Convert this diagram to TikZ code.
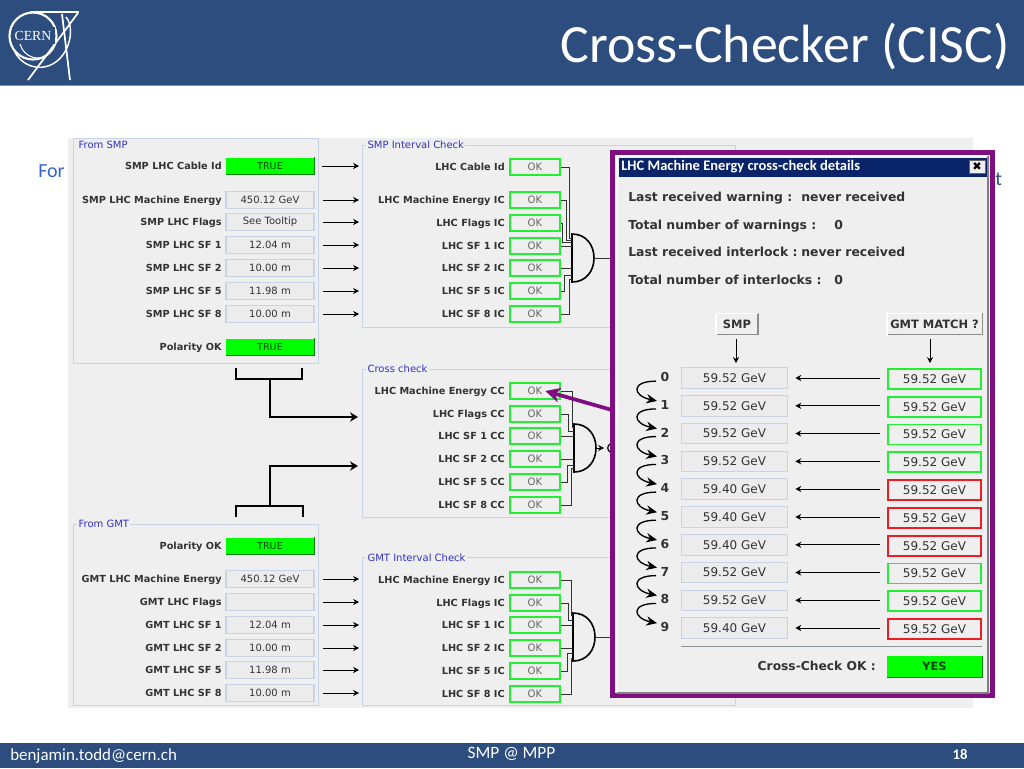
\documentclass[tikz,border=0pt]{standalone}
\usepackage{fontspec}
\setmainfont{DejaVu Sans}
\newfontfamily\calibri{Carlito}
\usetikzlibrary{arrows.meta}
\definecolor{hdr}{HTML}{2C4D7E}
\definecolor{pan}{HTML}{EFEFEF}
\definecolor{edgeb}{HTML}{C8D4E4}
\definecolor{valf}{HTML}{ECECEC}
\definecolor{okg}{HTML}{22EE33}
\definecolor{txt}{HTML}{333333}
\definecolor{tit}{HTML}{3030C8}
\definecolor{purp}{HTML}{7F0F80}
\definecolor{navy}{HTML}{0A246A}
\definecolor{bad}{HTML}{EE1C25}
\definecolor{grn}{HTML}{00FF00}
\definecolor{wire}{HTML}{333333}
\definecolor{forblue}{HTML}{3366CC}
\tikzset{
  lbl/.style={anchor=mid east,inner sep=0pt,text=txt,font=\fontsize{7.3}{8}\selectfont\bfseries},
  lbll/.style={anchor=mid west,inner sep=0pt,text=txt,font=\fontsize{9.3}{10}\selectfont\bfseries},
  valbox/.style={draw=edgeb,fill=valf,line width=.8pt,minimum width=66pt,minimum height=12.6pt,inner sep=0pt,text=txt,font=\fontsize{7.5}{8}\selectfont},
  truebox/.style={fill=grn,minimum width=66pt,minimum height=12.6pt,inner sep=0pt,text=black!65!green!80!black,font=\fontsize{7.2}{8}\selectfont},
  okbox/.style={draw=okg,fill=pan,line width=1.5pt,minimum width=38pt,minimum height=12pt,inner sep=0pt,text=black!60,font=\fontsize{7.6}{8}\selectfont},
  grp/.style={draw=edgeb,line width=.7pt},
  grptitle/.style={anchor=mid west,fill=pan,inner sep=1pt,text=tit,font=\fontsize{7.5}{8}\selectfont},
  sig/.style={draw=black,line width=.7pt,-{Stealth[length=4.4pt,width=4.6pt]}},
  fat/.style={draw=black,line width=1.2pt},
  fatarrow/.style={fat,-{Stealth[length=6pt,width=7pt]}},
  wr/.style={draw=wire,line width=.75pt},
  gate/.style={draw=black,line width=1.2pt,fill=pan},
  lleft/.style={draw=edgeb,fill=valf,line width=.8pt,minimum width=79.5pt,minimum height=15.4pt,inner sep=0pt,text=txt,font=\fontsize{9}{10}\selectfont},
  lright/.style={fill=pan,line width=1.4pt,minimum width=70pt,minimum height=15pt,inner sep=0pt,text=txt,font=\fontsize{9}{10}\selectfont},
  btn/.style={fill=pan,minimum height=15.5pt,inner sep=0pt,text=txt,font=\fontsize{8.6}{10}\selectfont\bfseries},
  curl/.style={draw=black,line width=1pt,-{Stealth[length=8pt,width=7pt]}},
}
\newcommand{\bevel}[2]{\draw[#2,line width=.9pt] (#1.south west) -- (#1.south east) -- (#1.north east);}
\newcommand{\lightbevel}[1]{\draw[white,line width=.9pt] (#1.south west) -- (#1.north west) -- (#1.north east);}
% gate: name, x, ycentre, pin offsets 1..6
\newcommand{\andgate}[9]{%
  \begin{scope}[shift={(#2,#3)}]
    \draw[gate] (0,-24) .. controls (14,-24) and (22,-13) .. (22,0) .. controls (22,13) and (14,24) .. (0,24) -- cycle;
    \coordinate (#1out) at (22,0);
    \coordinate (#1a) at (0,#4);
    \coordinate (#1b) at (0,#5);
    \coordinate (#1c) at (0,#6);
    \coordinate (#1d) at (0,#7);
    \coordinate (#1e) at (0,#8);
    \coordinate (#1f) at (0,#9);
  \end{scope}}
\begin{document}
\begin{tikzpicture}[x=0.75pt,y=-0.75pt]
\useasboundingbox (0,0) rectangle (1024,768);
\fill[white] (0,0) rectangle (1024,768);
% header and footer
\fill[hdr] (0,0) rectangle (1024,85);
\fill[hdr!60!white] (0,85) rectangle (1024,86);
\fill[hdr] (0,743) rectangle (1024,768);
\node[anchor=base east,inner sep=0pt,text=white,font=\calibri\fontsize{40.4}{46}\selectfont] (title) at (1010,62) {Cross-Checker (CISC)};
\node[anchor=base west,inner sep=0pt,text=white,font=\calibri\fontsize{12.7}{15}\selectfont] (mail) at (10,760) {benjamin.todd@cern.ch};
\node[anchor=base,inner sep=0pt,text=white,font=\calibri\fontsize{13}{15}\selectfont] (conf) at (511.5,758) {SMP @ MPP};
\node[anchor=base,inner sep=0pt,text=white,font=\calibri\bfseries\fontsize{11}{13}\selectfont] (pg) at (960,759) {18};
% CERN logo
\begin{scope}[white,line cap=butt]
  \draw[line width=1.6pt] (33,36) circle [radius=23.5];
  \draw[line width=1.3pt] (30,12) -- (79,12);
  \draw[line width=1.3pt] (78,13) -- (28,80);
  \draw[line width=1.3pt] (62,14) -- (70,80);
  \draw[line width=1.1pt] (14,50) .. controls (22,70) and (52,76) .. (66,50) .. controls (72,38) and (72,24) .. (66,17);
  \draw[line width=.8pt] (20,44) .. controls (24,58) and (40,62) .. (49,54);
  \fill[hdr] (12,27) rectangle (55,44);
  \node[inner sep=0pt,text=white,font=\rmfamily\fontsize{10.4}{12}\selectfont] (cernlogo) at (33,36) {\fontspec{Liberation Serif}CERN};
\end{scope}
% side text
\node[anchor=base west,inner sep=0pt,text=forblue,font=\calibri\fontsize{15}{18}\selectfont] (forw) at (38,177) {For};
\node[anchor=base west,inner sep=0pt,text=hdr,font=\calibri\fontsize{15}{18}\selectfont] (tail) at (995,185) {t};
% main panel
\fill[pan] (68,138) rectangle (973,708);
% groups
\draw[grp] (73,138) rectangle (318,363);
\node[grptitle] (t1) at (77,145) {From SMP};
\draw[grp] (73,524) rectangle (318,705);
\node[grptitle] (t2) at (77,524) {From GMT};
\draw[grp] (362,145) rectangle (735,327);
\node[grptitle] (t3) at (366,145) {SMP Interval Check};
\draw[grp] (362,369) rectangle (735,517);
\node[grptitle] (t4) at (366,369) {Cross check};
\draw[grp] (362,557) rectangle (735,705);
\node[grptitle] (t5) at (366,558) {GMT Interval Check};
% SMP values
\node[lbl] (sl0) at (222,166) {SMP LHC Cable Id};
\node[truebox] (sv0) at (270,166) {TRUE}; \bevel{sv0}{green!50!black}
\foreach \i/\lab/\val/\y in {1/SMP LHC Machine Energy/450.12 GeV/200,2/SMP LHC Flags/See Tooltip/222,3/SMP LHC SF 1/12.04 m/245,4/SMP LHC SF 2/10.00 m/268,5/SMP LHC SF 5/11.98 m/291,6/SMP LHC SF 8/10.00 m/314}{
  \node[lbl] (sl\i) at (222,\y) {\lab};
  \node[valbox] (sv\i) at (270,\y) {\val};
}
\node[lbl] (slp) at (222,347) {Polarity OK};
\node[truebox] (svp) at (270,347) {TRUE}; \bevel{svp}{green!50!black}
\foreach \i/\y in {0/166,1/200,2/222,3/245,4/268,5/291,6/314}{
  \coordinate (sin\i) at (359,\y);
  \draw[sig,shorten <=6pt] (sv\i.east) -- (sin\i);
}
% GMT values
\node[lbl] (glp) at (222,546) {Polarity OK};
\node[truebox] (gvp) at (270,546) {TRUE}; \bevel{gvp}{green!50!black}
\foreach \i/\lab/\val/\y in {1/GMT LHC Machine Energy/450.12 GeV/579,2/GMT LHC Flags//602,3/GMT LHC SF 1/12.04 m/625,4/GMT LHC SF 2/10.00 m/648,5/GMT LHC SF 5/11.98 m/670,6/GMT LHC SF 8/10.00 m/693}{
  \node[lbl] (gl\i) at (222,\y) {\lab};
  \node[valbox] (gv\i) at (270,\y) {\val};
  \coordinate (gin\i) at (359,\y);
  \draw[sig,shorten <=6pt] (gv\i.east) -- (gin\i);
}
% brackets
\coordinate (bA) at (236,368); \coordinate (bB) at (302,368); \coordinate (bS) at (270,379); \coordinate (inA) at (358,417);
\draw[fat] (bA) |- (bS) -| (bB);
\draw[fatarrow] (bS) |- (inA);
\coordinate (bC) at (236,517); \coordinate (bD) at (303,517); \coordinate (bT) at (270,506); \coordinate (inB) at (358,466);
\draw[fat] (bC) |- (bT) -| (bD);
\draw[fatarrow] (bT) |- (inB);
% SMP interval
\foreach \i/\lab/\y in {0/LHC Cable Id/167,1/LHC Machine Energy IC/200,2/LHC Flags IC/223,3/LHC SF 1 IC/246,4/LHC SF 2 IC/268,5/LHC SF 5 IC/291,6/LHC SF 8 IC/314}{
  \node[lbl] (il\i) at (505,\y) {\lab};
  \node[okbox] (io\i) at (535,\y) {OK};
}
\andgate{ga}{572}{258}{-18}{-16}{-12}{11}{17}{21}
\coordinate (ga0) at (572,238);
\draw[wr] (io0.east) -- ++(8,0) |- (ga0);
\draw[wr] (io1.east) -- ++(5,0) |- (gaa);
\draw[wr] (io2.east) -- ++(1,0) |- (gab);
\draw[wr] (io3.east) -- (io3.east -| gac);
\draw[wr] (io4.east) -- (io4.east -| gad);
\draw[wr] (io5.east) -- ++(3,0) |- (gae);
\draw[wr] (io6.east) -- ++(8,0) |- (gaf);
\coordinate (gaend) at (612,258);
\draw[wr] (gaout) -- (gaend);
% Cross check
\foreach \i/\lab/\y in {1/LHC Machine Energy CC/391,2/LHC Flags CC/414,3/LHC SF 1 CC/436,4/LHC SF 2 CC/459,5/LHC SF 5 CC/482,6/LHC SF 8 CC/505}{
  \node[lbl] (cl\i) at (505,\y) {\lab};
  \node[okbox] (co\i) at (535,\y) {OK};
}
\andgate{gb}{574}{448}{-21}{-17}{-11}{11}{17}{20}
\draw[wr] (co1.east) -- ++(11,0) |- (gba);
\draw[wr] (co2.east) -- ++(7,0) |- (gbb);
\draw[wr] (co3.east) -- (co3.east -| gbc);
\draw[wr] (co4.east) -- (co4.east -| gbd);
\draw[wr] (co5.east) -- ++(6,0) |- (gbe);
\draw[wr] (co6.east) -- ++(10,0) |- (gbf);
\coordinate (gbend) at (604,448);
\draw[sig] (gbout) -- (gbend);
\draw[black,line width=.9pt] (610,444) .. controls (607,446) and (607,450) .. (610,452);
% GMT interval
\foreach \i/\lab/\y in {1/LHC Machine Energy IC/580,2/LHC Flags IC/603,3/LHC SF 1 IC/625,4/LHC SF 2 IC/648,5/LHC SF 5 IC/671,6/LHC SF 8 IC/694}{
  \node[lbl] (jl\i) at (505,\y) {\lab};
  \node[okbox] (jo\i) at (535,\y) {OK};
}
\andgate{gc}{573}{637}{-22}{-17}{-12}{11}{16}{21}
\draw[wr] (jo1.east) -- ++(10,0) |- (gca);
\draw[wr] (jo2.east) -- ++(7,0) |- (gcb);
\draw[wr] (jo3.east) -- (jo3.east -| gcc);
\draw[wr] (jo4.east) -- (jo4.east -| gcd);
\draw[wr] (jo5.east) -- ++(6,0) |- (gce);
\draw[wr] (jo6.east) -- ++(10,0) |- (gcf);
\coordinate (gcend) at (612,637);
\draw[wr] (gcout) -- (gcend);
% popup
\draw[purp,line width=3.9pt,fill=pan] (612.5,152.5) rectangle (992.5,695.5);
\draw[white,line width=.8pt] (617,693) -- (617,156) -- (988,156);
\draw[black!50,line width=1pt] (617,693) -- (988,693) -- (988,156);
\fill[navy] (619,158) rectangle (987,177);
\node[anchor=mid west,inner sep=0pt,text=white,font=\calibri\bfseries\fontsize{10.9}{12}\selectfont] (ptitle) at (621,167) {LHC Machine Energy cross-check details};
\node[draw=black!60,fill=pan,line width=.6pt,minimum width=12pt,minimum height=9.5pt,inner sep=0pt,font=\bfseries\fontsize{8.5}{9}\selectfont] (pclose) at (977,167) {✖};
\node[lbll] (p1) at (628,198) {Last received warning :};
\node[lbll] (p1b) at (801,198) {never received};
\node[lbll] (p2) at (628,226) {Total number of warnings :};
\node[lbll] (p2b) at (834,226) {0};
\node[lbll] (p3) at (628,253) {Last received interlock :};
\node[lbll] (p3b) at (801,253) {never received};
\node[lbll] (p4) at (628,281) {Total number of interlocks :};
\node[lbll] (p4b) at (834,281) {0};
\node[btn,minimum width=31pt] (bsmp) at (737,324) {SMP};
\bevel{bsmp}{black!45}\lightbevel{bsmp}
\node[btn,minimum width=71pt] (bgmt) at (934.5,324) {GMT MATCH ?};
\bevel{bgmt}{black!45}\lightbevel{bgmt}
\coordinate (asmp) at (736,363); \coordinate (agmt) at (930,363);
\draw[sig,shorten <=3pt] (bsmp.south -| asmp) -- (asmp);
\draw[sig,shorten <=3pt] (bgmt.south -| agmt) -- (agmt);
\foreach \i/\y/\a/\b/\c in {0/378/59.52/59.52/okg,1/405.8/59.52/59.52/okg,2/433.5/59.52/59.52/okg,3/461.3/59.52/59.52/okg,4/489/59.40/59.52/bad,5/517/59.40/59.52/bad,6/544.8/59.40/59.52/bad,7/572.5/59.52/59.52/okg,8/600.3/59.52/59.52/okg,9/628/59.40/59.52/bad}{
  \node[lbll,anchor=mid] (dg\i) at (665,\y) {\i};
  \node[lleft] (la\i) at (734.5,\y) {\a\ GeV};
  \node[lright,draw=\c] (ra\i) at (934.5,\y+1) {\b\ GeV};
  \draw[sig,shorten <=5pt,shorten >=5.5pt] (ra\i.west |- la\i.east) -- (la\i.east);
}
\foreach \i/\j in {0/1,1/2,2/3,3/4,4/5,5/6,6/7,7/8,8/9}{
  \coordinate (cs\i) at ([shift={(-9,4)}]dg\i.center);
  \coordinate (ce\i) at ([shift={(-8,-4)}]dg\j.center);
  \draw[curl] (cs\i) .. controls ([shift={(-26,0)}]cs\i) and ([shift={(-24,-5)}]ce\i) .. (ce\i);
}
\coordinate (sepa) at (681,646); \coordinate (sepb) at (982,646);
\draw[draw=edgeb!70!black,line width=.6pt] (sepa) -- (sepb);
\node[lbl,font=\fontsize{9.2}{10}\selectfont\bfseries] (ccl) at (876,667) {Cross-Check OK :};
\node[truebox,minimum width=71pt,minimum height=15.5pt,text=black!75!green,font=\fontsize{8.5}{10}\selectfont\bfseries] (yes) at (934.5,666.5) {YES};
\bevel{yes}{green!50!black}
% purple pointer
\coordinate (ptail) at (612,410);
\draw[purp,line width=2.8pt,-{Stealth[length=11pt,width=11pt,inset=3pt]}] (ptail) -- ([xshift=-12pt]co1.east);
\end{tikzpicture}
\end{document}
